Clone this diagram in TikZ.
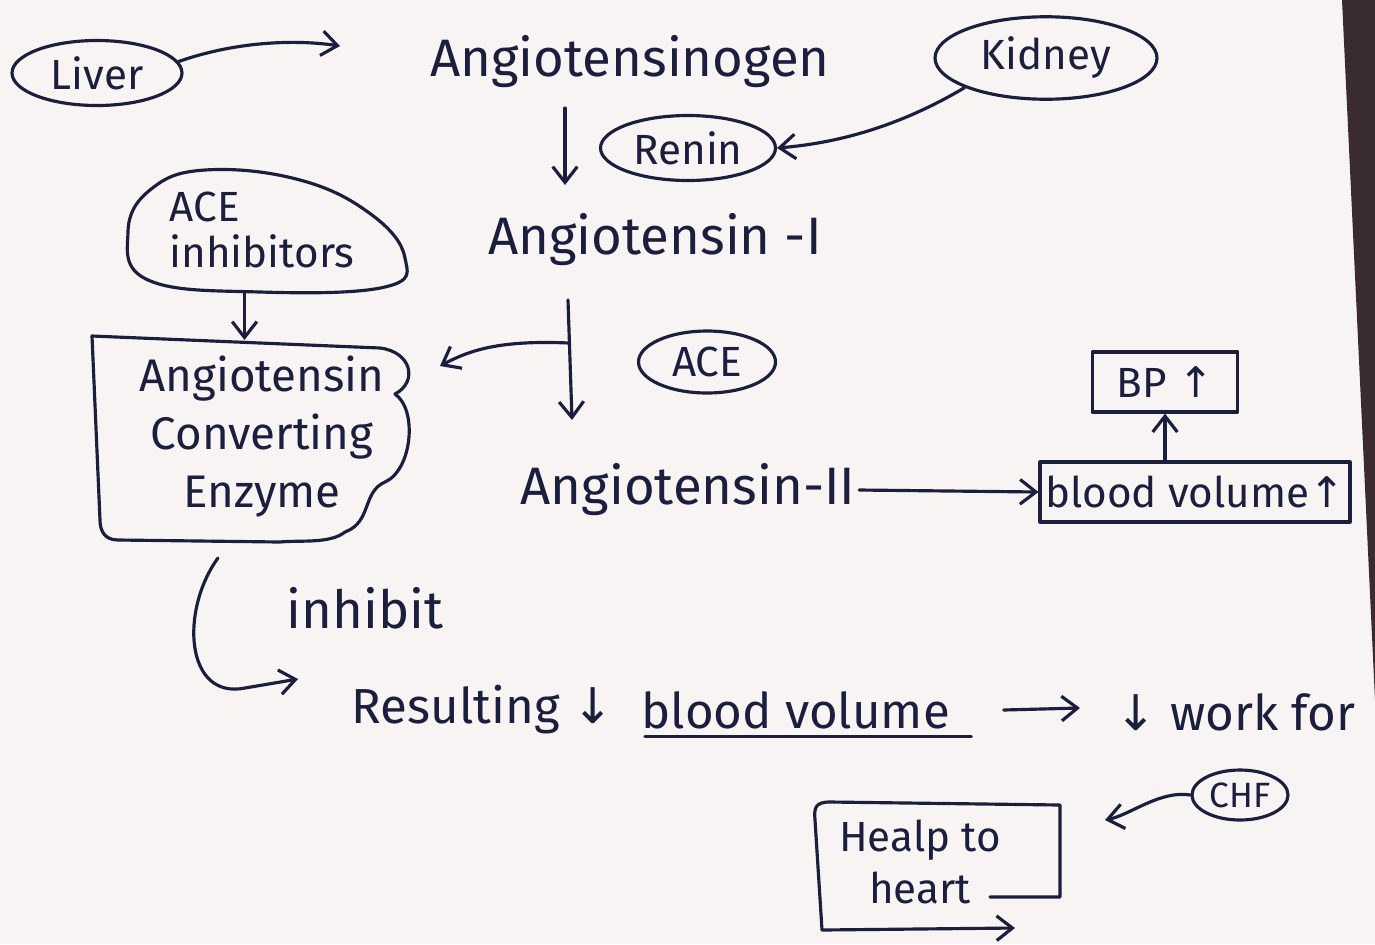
\documentclass[tikz,border=0pt]{standalone}
\usepackage{fontspec}
\setmainfont{Fira Sans}
\newfontfamily\symfont{DejaVu Sans}
\usetikzlibrary{arrows.meta,shapes.geometric,calc}

\definecolor{ink}{HTML}{1B1E3D}
\definecolor{paper}{HTML}{F8F4F3}
\definecolor{edge}{HTML}{3A2B2E}

\newcommand{\upa}{{\symfont ↑}}
\newcommand{\dna}{{\symfont ↓}}

\tikzset{
  pen/.style={draw=ink, line width=1.8pt, line cap=round, line join=round},
  arr/.style={pen, -{Straight Barb[length=9pt,width=14pt,line width=1.8pt]}},
  txt/.style={text=ink, inner sep=2pt, font=\fontsize{30}{36}\selectfont},
  midtxt/.style={text=ink, inner sep=2pt, font=\fontsize{28}{34}\selectfont},
  smalltxt/.style={text=ink, inner sep=2pt, font=\fontsize{24}{30}\selectfont},
  oval/.style={pen, ellipse, text=ink, inner sep=0pt, font=\fontsize{24}{30}\selectfont},
  boxed/.style={pen, rectangle, text=ink, inner sep=3pt, font=\fontsize{24}{30}\selectfont},
}

\begin{document}
\begin{tikzpicture}[x=0.02cm, y=-0.02cm]
  % sheet of paper and the dark table edge at the right
  \fill[paper] (0,0) rectangle (1375,944);
  \fill[edge] (1342,0) -- (1375,0) -- (1375,700) -- cycle;
  \useasboundingbox (0,0) rectangle (1375,944);

  % ---- top row ----
  \node[oval, minimum width=3.4cm, minimum height=1.3cm] (liver) at (97,73) {Liver};
  \node[txt] (agen) at (630,62) {Angiotensinogen};
  \node[oval, minimum width=4.44cm, minimum height=1.65cm] (kidney) at (1046,58) {Kidney};
  \node[oval, minimum width=3.5cm, minimum height=1.3cm] (renin) at (688,148) {Renin};

  % ---- ACE inhibitors blob ----
  \node[smalltxt, align=left] (aceinh) at (262,230) {ACE\\[-4pt]inhibitors};
  \draw[pen] plot[smooth cycle, tension=0.7] coordinates
    {(128,232) (150,190) (205,170) (300,180) (372,215) (405,258) (385,287) (260,292) (148,280)};

  \node[txt] (ang1) at (655,240) {Angiotensin -I};

  % ---- Angiotensin converting enzyme box ----
  \node[text=ink, align=center, font=\fontsize{26}{33}\selectfont] (ace-enz) at (262,437)
    {Angiotensin\\Converting\\Enzyme};
  \draw[pen] (92,336) -- (380,348)
    .. controls (412,352) and (418,382) .. (395,394)
    .. controls (418,410) and (412,470) .. (385,482)
    .. controls (362,492) and (372,522) .. (345,532)
    .. controls (330,544) and (300,540) .. (280,542)
    -- (118,540) .. controls (104,540) and (100,530) .. (100,520) -- cycle;

  \node[oval, minimum width=2.74cm, minimum height=1.24cm] (ace) at (707,362) {ACE};

  \node[txt] (ang2) at (688,490) {Angiotensin-II};

  % ---- right column ----
  \node[boxed, minimum width=6.2cm, minimum height=1.2cm] (bv) at (1195,492) {blood volume\upa};
  \node[boxed, minimum width=2.9cm, minimum height=1.2cm] (bp) at (1165,382) {BP \upa};

  % ---- lower part ----
  \node[txt] (inhibit) at (365,608) {inhibit};
  \node[midtxt, anchor=west] (res1) at (348,710) {Resulting \dna};
  \node[midtxt, anchor=west] (res2) at ([xshift=0.4cm]res1.east) {blood volume};
  \node[midtxt, anchor=west] (work) at (1112,712) {\dna\ work for};
  \node[oval, minimum width=1.92cm, minimum height=1.0cm, font=\fontsize{20}{24}\selectfont] (chf) at (1240,795) {CHF};
  \node[smalltxt, align=center] (help) at (920,862) {Healp to\\heart};

  % ---- connectors ----
  \coordinate (c-agen-in) at (340,46);
  \draw[arr] (liver.8) .. controls (240,40) and (300,40) .. (c-agen-in);

  \draw[arr] (kidney.200) .. controls (910,120) and (850,142) .. (renin.east);

  \coordinate (d1a) at (565,108);
  \coordinate (d1b) at (565,185);
  \draw[arr] (d1a) -- (d1b);

  \draw[arr] ([xshift=-0.35cm]aceinh.south |- 0,292) -- ([xshift=-0.35cm]aceinh.south |- 0,340);

  \coordinate (d2a) at (568,300);
  \coordinate (d2b) at (572,420);
  \coordinate (d2m) at (569,343);
  \draw[arr] (d2a) -- (d2b);
  \draw[arr] (d2m) .. controls (500,340) and (470,350) .. (440,366);

  \draw[arr] (ang2.east) -- (bv.west);
  \draw[arr] (bv.north -| bp.south) -- (bp.south);

  \coordinate (c-enz-out) at (218,558);
  \coordinate (c-res-in) at (298,679);
  \draw[arr] (c-enz-out) .. controls (180,610) and (185,700) .. (245,688)
    -- (c-res-in);

  \draw[pen] ([xshift=4pt,yshift=-2pt]res2.south west) -- ([xshift=10pt,yshift=-2pt]res2.south east);
  \coordinate (w-in) at (1080,708);
  \draw[arr] ([xshift=1.0cm]res2.east) -- (w-in);

  \draw[arr] (chf.west) .. controls (1160,790) and (1130,815) .. (1105,820);

  % open box around "Healp to heart"
  \draw[arr] (990,897) -- (1060,897) -- (1060,805) -- (830,802)
    .. controls (815,802) and (814,808) .. (815,820) -- (822,930) -- (1015,928);
\end{tikzpicture}
\end{document}
